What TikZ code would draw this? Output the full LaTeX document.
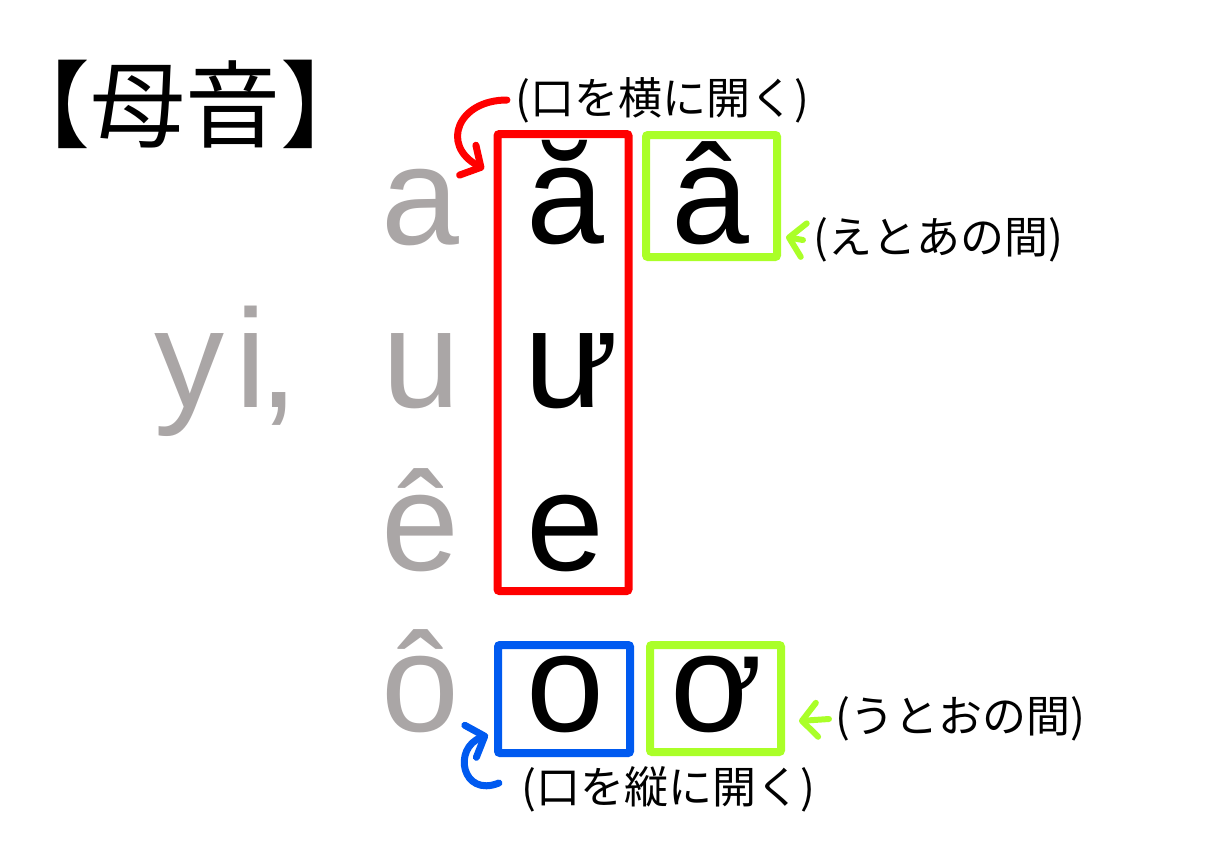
\documentclass[tikz,border=0pt]{standalone}
\usepackage{fontspec}
\setmainfont{Liberation Sans}
\newfontfamily\jpfont{Noto Sans CJK JP}
\usetikzlibrary{arrows.meta}
\definecolor{vowel red}{RGB}{255,0,0}
\definecolor{vowel lime}{RGB}{170,255,40}
\definecolor{vowel blue}{RGB}{0,90,240}
\definecolor{vowel grey}{RGB}{170,166,166}
\tikzset{my letter/.style={anchor=base, inner sep=0pt, font=\fontsize{140}{140}\selectfont},
my grey letter/.style={my letter, text=vowel grey},
my box/.style={draw, line width=8pt, rounded corners=2pt, inner sep=0pt},
my note/.style={inner sep=0pt, font=\jpfont\fontsize{44}{44}\selectfont},
my arrow/.style={line width=7pt, line cap=round, -{Straight Barb[length=15pt,width=34pt,line cap=round,round]}},}

\begin{document}
\begin{tikzpicture}[x=1pt,y=-1pt]
\useasboundingbox [fill=white] (  0.000000,  0.000000) rectangle (1220.000000,862.000000);
\node [inner sep=0pt, font=\jpfont\fontsize{95}{95}\selectfont] (title) at (185.000000,104.000000) {【母音】};
\node [my box,draw=vowel red,minimum width=131pt,minimum height=457pt] (redbox) at (563.000000,362.500000) {};
\node [my box,draw=vowel lime,minimum width=131pt,minimum height=122pt] (limetop) at (711.500000,196.000000) {};
\node [my box,draw=vowel blue,minimum width=132pt,minimum height=108pt] (bluebox) at (564.000000,699.000000) {};
\node [my box,draw=vowel lime,minimum width=131pt,minimum height=107pt] (limebottom) at (715.500000,698.500000) {};
\node [my grey letter] (ga) at (420.000000,244.000000) {a};
\node [my grey letter] (gyi) at (226.000000,407.000000) {y\kern12pt i\kern-8pt,};
\node [my grey letter] (gu) at (421.000000,407.000000) {u};
\node [my grey letter] (ge) at (420.000000,570.000000) {ê};
\node [my grey letter] (go) at (420.000000,731.000000) {ô};
\node [my letter] (abreve) at (565.000000,243.000000) {ă};
\node [my letter] (acirc) at (710.000000,243.000000) {â};
\node [my letter] (uhorn) at (571.000000,407.000000) {ư};
\node [my letter] (e) at (565.000000,570.000000) {e};
\node [my letter] (o) at (565.000000,731.000000) {o};
\node [my letter] (ohorn) at (716.000000,731.000000) {ơ};
\node [my note] (wide) at (662.000000,100.000000) {(口を横に開く)};
\node [my note] (between e a) at (938.000000,240.000000) {(えとあの間)};
\node [my note] (between u o) at (960.000000,719.000000) {(うとおの間)};
\node [my note] (tall) at (668.000000,789.000000) {(口を縦に開く)};
\coordinate (wide tip) at (484.000000,169.000000);
\coordinate (tall tip) at (488.000000,735.000000);
\coordinate (ea tip) at (786.000000,237.000000);
\coordinate (uo tip) at (799.000000,721.000000);
\draw [my arrow,draw=vowel red] ([xshift=-8pt]wide.west) .. controls (458.000000,100.000000) and (440.000000,145.000000) .. (wide tip);
\draw [my arrow,draw=vowel blue] ([xshift=-22pt,yshift=6pt]tall.west) .. controls (462.000000,798.000000) and (452.000000,748.000000) .. (tall tip);
\draw [my arrow,draw=vowel lime,line width=6pt] ([xshift=-10pt]between e a.west) -- (ea tip);
\draw [my arrow,draw=vowel lime,line width=6pt] ([xshift=-6pt]between u o.west) -- (uo tip);
\end{tikzpicture}
\end{document}
